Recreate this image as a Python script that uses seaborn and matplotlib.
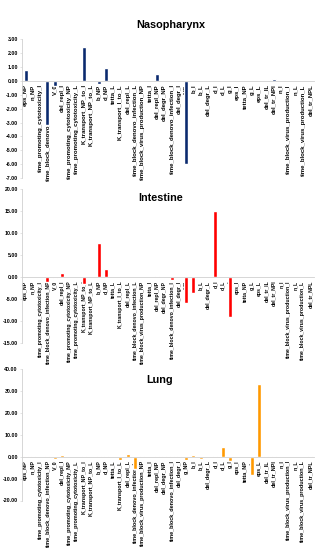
import numpy as np
import pandas as pd
import matplotlib
matplotlib.use("Agg")
import matplotlib.pyplot as plt
import matplotlib.ticker as mticker
import seaborn as sns

sns.set_style("white")
plt.rcParams['font.family'] = ['Liberation Sans', 'DejaVu Sans']
plt.rcParams['font.weight'] = 'bold'

# Parameter names (x categories)
params = [
    "eps_NP", "n_NP", "time_promoting_cytotoxicity_I", "time_block_denovo_infection_NP",
    "V_0", "del_repl_I", "time_promoting_cytotoxicity_NP", "time_promoting_cytotoxicity_L",
    "K_transport_NP_to_I", "K_transport_NP_to_L", "b_NP", "d_NP", "tetta_L",
    "K_transport_I_to_L", "del_repl_L", "time_block_denovo_infection_L",
    "time_block_virus_production_NP", "tetta_I", "del_repl_NP", "del_degr_NP",
    "time_block_denovo_infection_I", "del_degr_I", "g_NP", "b_I", "b_L", "del_degr_L",
    "d_I", "d_L", "g_I", "eps_I", "tetta_NP", "g_L", "eps_L", "del_tr_IL", "del_tr_NPI",
    "n_I", "time_block_virus_production_I", "n_L", "time_block_virus_production_L",
    "del_tr_NPL",
]

# Values per compartment
nasopharynx = [0.75, 0, 0, -3.2, -0.35, -0.03, 0, 0, 2.45, 0,
               -0.25, 0.9, 0, 0, -0.03, 0, 0, 0, 0.5, -0.05,
               0, 0, -5.95, 0, 0.02, 0, 0.02, 0, 0.02, 0,
               0, 0.02, 0, 0, 0.12, 0, 0, 0, 0, 0.02]
intestine = [0.15, 0, 0, -1.2, -0.1, 1.0, 0, 0, -1.5, 0,
             7.8, 1.8, 0, 0, 0.05, 0, 0, 0, 0.35, 0,
             -0.6, 0, -5.9, -3.5, 0, 0, 15.1, 0.1, -9.0, 0.15,
             0, 0.1, 0.1, 0, 0, 0, 0, 0, 0, 0.05]
lung = [0.3, 0.1, 0, 0.1, -1.0, 0.6, 0, 0, 0.2, 0,
        0.3, 0.3, 0, -1.5, 1.3, -5.5, 0.1, 0, 0.3, 0.2,
        0.2, 0.1, -1.5, 0.6, -0.9, 0, 0.3, 4.4, -2.0, 0,
        0, -8.4, 33.2, 0.3, 0.3, 0, 0, 0, 0, 0.3]

panels = [
    ("Nasopharynx", nasopharynx, "#0a2a6e", (-7, 3), 1, [0.069, 0.676, 0.918, 0.253], (0.51, 1.10), 4.3),
    ("Intestine", intestine, "#ff0000", (-15, 20), 5, [0.069, 0.376, 0.918, 0.280], (0.475, 0.94), 3.7),
    ("Lung", lung, "#ff9900", (-20, 40), 10, [0.069, 0.090, 0.918, 0.239], (0.47, 0.92), 3.85),
]

fig = plt.figure(figsize=(3.18, 5.5), dpi=100)

for title, vals, color, ylim, step, rect, tpos, xls in panels:
    ax = fig.add_axes(rect)
    df = pd.DataFrame({"param": params, "value": vals})
    sns.barplot(data=df, x="param", y="value", color=color, width=0.55,
                saturation=1, ax=ax)
    ax.set_xlim(-0.5, len(params) - 0.5)
    ax.set_ylim(*ylim)
    ax.yaxis.set_major_locator(mticker.MultipleLocator(step))
    ax.yaxis.set_major_formatter(mticker.FormatStrFormatter('%.2f'))
    ax.spines['bottom'].set_position(('data', 0))
    for s in ['top', 'right']:
        ax.spines[s].set_visible(False)
    for s in ['left', 'bottom']:
        ax.spines[s].set_color('#d0d0d0')
        ax.spines[s].set_linewidth(0.6)
    ax.tick_params(axis='x', labelrotation=90, labelsize=xls, length=1.5,
                   width=0.4, color='#d0d0d0', pad=1, labelcolor='black')
    ax.tick_params(axis='y', labelsize=3.8, length=1.5, width=0.4,
                   color='#d0d0d0', pad=1.5, left=True, labelcolor='black')
    for lab in ax.get_xticklabels() + ax.get_yticklabels():
        lab.set_fontweight('bold')
    ax.set_xlabel("")
    ax.set_ylabel("")
    ax.text(tpos[0], tpos[1], title, transform=ax.transAxes, ha='center', va='center',
            fontsize=7.8, fontweight='bold', color='black',
            family=['Liberation Sans', 'DejaVu Sans'])

fig.savefig("out.png", dpi=100)
